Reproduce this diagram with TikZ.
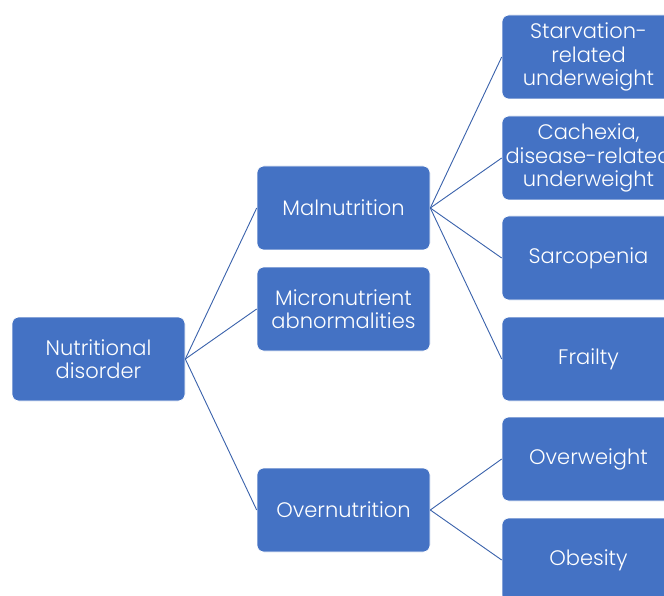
\documentclass[tikz,border=0pt]{standalone}
\usepackage{fontspec}
\setmainfont{Poppins}[UprightFont={* Light}]
\definecolor{boxblue}{HTML}{4472C4}
\definecolor{lineblue}{HTML}{3A62AC}
\tikzset{
  box/.style={rectangle, rounded corners=7pt, fill=boxblue, draw=white, line width=0.6pt,
    minimum width=173pt, minimum height=84pt, inner sep=0pt, align=center,
    text=white, font=\fontsize{21}{23.5}\selectfont},
  conn/.style={draw=lineblue, line width=0.9pt}
}
\begin{document}
\begin{tikzpicture}[x=1pt,y=-1pt]
\useasboundingbox (0,0) rectangle (664,596);
\clip (0,0) rectangle (664,596);
\fill[white] (0,0) rectangle (664,596);
\node[box] (nd) at (98.5,359) {Nutritional\\disorder};
\node[box] (mal) at (343.5,208) {Malnutrition};
\node[box] (mic) at (343.5,309) {Micronutrient\\abnormalities};
\node[box] (ovn) at (343.5,510) {Overnutrition};
\node[box] (sta) at (588.5,57) {Starvation-\\related\\underweight};
\node[box] (cac) at (588.5,158) {Cachexia,\\disease-related\\underweight};
\node[box] (sar) at (588.5,258) {Sarcopenia};
\node[box] (fra) at (588.5,359) {Frailty};
\node[box] (ovw) at (588.5,459) {Overweight};
\node[box] (obe) at (588.5,560) {Obesity};
\draw[conn] (nd.east) -- (mal.west);
\draw[conn] (nd.east) -- (mic.west);
\draw[conn] (nd.east) -- (ovn.west);
\draw[conn] (mal.east) -- (sta.west);
\draw[conn] (mal.east) -- (cac.west);
\draw[conn] (mal.east) -- (sar.west);
\draw[conn] (mal.east) -- (fra.west);
\draw[conn] (ovn.east) -- (ovw.west);
\draw[conn] (ovn.east) -- (obe.west);
\end{tikzpicture}
\end{document}
